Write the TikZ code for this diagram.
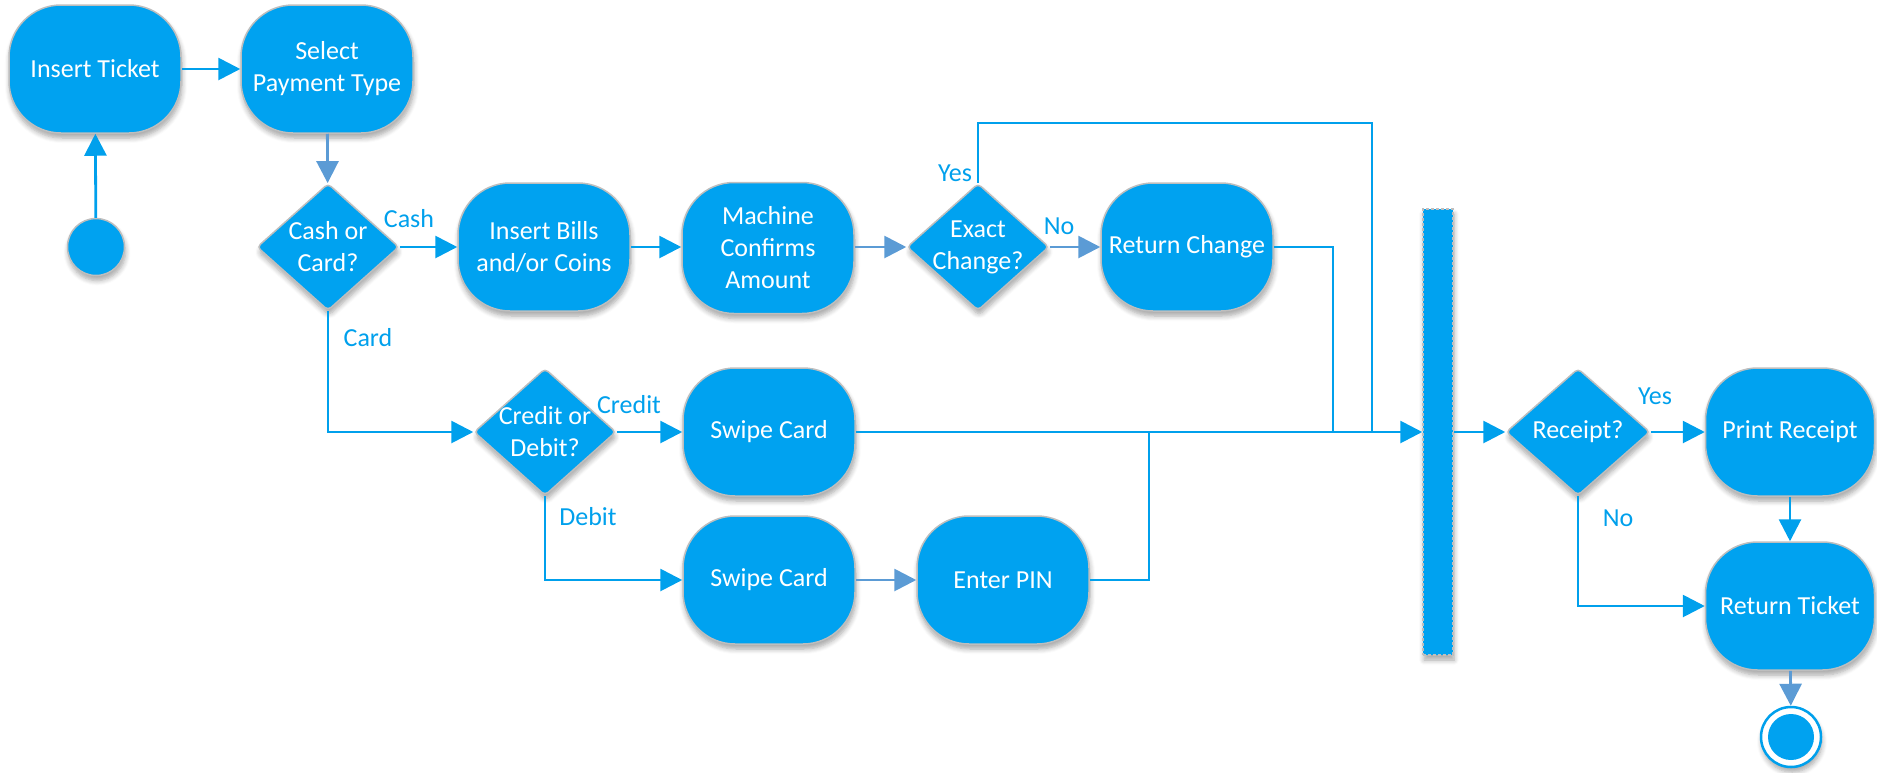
\documentclass[tikz,border=0pt]{standalone}
\usepackage{fontspec}
\setmainfont{Carlito}
\usetikzlibrary{arrows.meta,shapes.geometric,shadows,shadows.blur}
\definecolor{fillblue}{RGB}{0,162,240}
\definecolor{lineblue}{RGB}{0,160,236}
\definecolor{dullblue}{RGB}{91,155,213}
\definecolor{edgegray}{RGB}{190,190,190}
\begin{document}
\begin{tikzpicture}[x=1pt,y=-1pt,
  txt/.style={font=\fontsize{26}{32}\selectfont},
  shad/.style={blur shadow={shadow xshift=1pt,shadow yshift=-5pt,shadow blur radius=5pt,shadow blur steps=6,shadow opacity=35}},
  act/.style={rectangle,rounded corners=52pt,draw=edgegray,line width=1.5pt,fill=fillblue,
    minimum width=172pt,minimum height=128pt,inner sep=2pt,text=white,align=center,txt,shad},
  dec/.style={diamond,draw=edgegray,line width=1.5pt,fill=fillblue,minimum width=142pt,
    minimum height=127pt,inner sep=0pt,rounded corners=4pt,shad},
  dtext/.style={text=white,align=center,txt,inner sep=0pt},
  lbl/.style={text=lineblue,txt,inner sep=0pt},
  flow/.style={draw=lineblue,line width=2.8pt,-{Triangle[length=22pt,width=22pt]}},
  dflow/.style={flow,draw=dullblue},
  conn/.style={draw=lineblue,line width=2.8pt}
]
\useasboundingbox (0,0) rectangle (1877,772);

% nodes
\node[circle,fill=fillblue,draw=edgegray,line width=1.5pt,minimum size=57pt,inner sep=0pt,shad] (start) at (96,247) {};
\node[act] (it) at (95,69) {Insert Ticket};
\node[act] (spt) at (327,69) {Select\\Payment Type};
\node[dec] (cc) at (328,247) {};
\node[dtext] (cct) at (cc) {Cash or\\Card?};
\node[act] (ib) at (544,247) {Insert Bills\\and/or Coins};
\node[act,minimum height=131pt] (mc) at (768,248) {Machine\\Confirms\\Amount};
\node[dec] (ec) at (978,247) {};
\node[dtext] (ect) at (ec) {Exact\\Change?};
\node[act] (rc) at (1187,247) {Return Change};
\node[dec] (cd) at (545,432) {};
\node[dtext] (cdt) at (cd) {Credit or\\Debit?};
\node[act] (sw1) at (769,432) {Swipe Card};
\node[act] (sw2) at (769,580) {Swipe Card};
\node[act] (pin) at (1003,580) {Enter PIN};
\node[rectangle,fill=fillblue,draw=edgegray,line width=1.5pt,dash pattern=on 3pt off 2pt,
  minimum width=30pt,minimum height=446pt,inner sep=0pt,shad] (bar) at (1438,432) {};
\node[dec,minimum width=144pt] (rq) at (1578,432) {};
\node[dtext] (rqt) at (rq) {Receipt?};
\node[act,minimum width=169pt] (pr) at (1790,432) {Print Receipt};
\node[act,minimum width=169pt] (rt) at (1790,606) {Return Ticket};
\node[circle,fill=white,draw=lineblue,line width=2.5pt,minimum size=60pt,inner sep=0pt,shad] (endo) at (1791,737) {};
\node[circle,fill=fillblue,minimum size=46pt,inner sep=0pt] (endi) at (endo) {};

% junction coordinates
\coordinate (ytop) at (1372,123);
\coordinate (jy) at (1372,432);
\coordinate (jr) at (1333,432);
\coordinate (jp) at (1149,432);

% connectors
\draw[flow] (start) -- (it);
\draw[flow] (it) -- (spt);
\draw[dflow] (spt) -- (cc);
\draw[flow] (cc) -- (ib);
\draw[flow] (cc.south) |- (cd.west);
\draw[flow] (ib) -- (mc.west |- ib);
\draw[dflow] (mc.east |- ec) -- (ec);
\draw[dflow] (ec) -- (rc);
\draw[conn] (ec.north) |- (ytop) -- (jy);
\draw[conn] (rc.east) -| (jr);
\draw[flow] (cd) -- (sw1);
\draw[flow] (cd.south) |- (sw2.west);
\draw[dflow] (sw2) -- (pin);
\draw[conn] (pin.east) -| (jp);
\draw[flow] (sw1) -- (bar);
\draw[flow] (bar) -- (rq);
\draw[flow] (rq) -- (pr);
\draw[flow] (rq.south) |- (rt.west);
\draw[flow] (pr) -- (rt);
\draw[dflow] (rt) -- (endo);

% labels
\node[lbl] (lcash) at (409,219) {Cash};
\node[lbl] (lcard) at (368,338) {Card};
\node[lbl] (lcredit) at (629,405) {Credit};
\node[lbl] (ldebit) at (588,517) {Debit};
\node[lbl] (lyes1) at (955,173) {Yes};
\node[lbl] (lno1) at (1059,226) {No};
\node[lbl] (lyes2) at (1655,396) {Yes};
\node[lbl] (lno2) at (1618,518) {No};
\end{tikzpicture}
\end{document}
